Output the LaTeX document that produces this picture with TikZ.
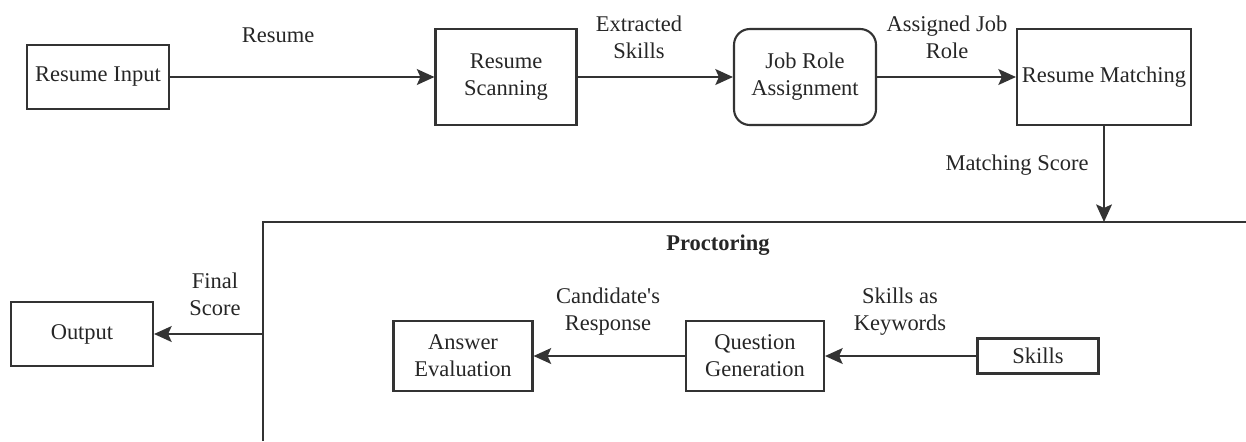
\documentclass[tikz,border=0pt]{standalone}
\usepackage{fontspec}
\setmainfont{Liberation Serif}
\usepackage{xcolor}
\usetikzlibrary{arrows.meta}
\definecolor{ink}{HTML}{333333}
\tikzset{
	box/.style={draw=ink, line width=1.2pt, inner sep=0pt, align=center,
			font=\fontsize{12.8}{15.4}\selectfont, text=black!85},
	rbox/.style={box, rounded corners=9pt},
	lbl/.style={align=center, inner sep=0pt,
			font=\fontsize{12.8}{15.4}\selectfont, text=black!85},
	flow/.style={draw=ink, line width=1.2pt, -{Stealth[length=10pt,width=9pt,inset=2pt]}}
}

\begin{document}
\begin{tikzpicture}[x=0.02cm, y=-0.02cm]
		\useasboundingbox (0,0) rectangle (1246,441);

		% Top row
		\node[box, minimum width=2.84cm, minimum height=1.28cm] (input) at (98,77) {Resume Input};
		\node[box, minimum width=2.82cm, minimum height=1.92cm] (scan) at (506,77) {Resume\\Scanning};
		\node[rbox, minimum width=2.84cm, minimum height=1.92cm] (assign) at (805,77) {Job Role\\Assignment};
		\node[box, minimum width=3.48cm, minimum height=1.92cm] (match) at (1104,77) {Resume Matching};

		\draw[flow] (input) -- (scan);
		\draw[flow] (scan) -- (assign);
		\draw[flow] (assign) -- (match);

		\node[lbl] (lresume) at (278,35) {Resume};
		\node[lbl] (lextract) at (639,37) {Extracted\\Skills};
		\node[lbl] (lrole) at (947,37) {Assigned Job\\Role};

		% Proctoring frame (open to the right and bottom)
		\coordinate (fbot) at (263,441);
		\coordinate (fcorner) at (263,222);
		\coordinate (fright) at (1246,222);
		\coordinate (ftop) at (1104,222);
		\coordinate (fout) at (263,334);
		\draw[draw=ink, line width=1.2pt] (fbot) -- (fcorner) -- (fright);
		\node[lbl, font=\fontsize{12.8}{15.4}\selectfont\bfseries] (proc) at (718,245) {Proctoring};

		\draw[flow] (match) -- (ftop);
		\node[lbl] (lscore) at (1017,165) {Matching Score};

		% Inside the frame
		\node[box, minimum width=2.42cm, minimum height=0.7cm] (skills) at (1038,356) {Skills};
		\node[box, minimum width=2.76cm, minimum height=1.4cm] (quest) at (755,356) {Question\\Generation};
		\node[box, minimum width=2.78cm, minimum height=1.4cm] (eval) at (463,356) {Answer\\Evaluation};

		\draw[flow] (skills) -- (quest);
		\draw[flow] (quest) -- (eval);

		\node[lbl] (lkeys) at (900,312) {Skills as\\Keywords};
		\node[lbl] (lresp) at (608,312) {Candidate\textquotesingle s\\Response};

		% Output
		\node[box, minimum width=2.84cm, minimum height=1.28cm] (output) at (82,334) {Output};
		\draw[flow] (fout) -- (output);
		\node[lbl] (lfinal) at (215,294) {Final\\Score};
	\end{tikzpicture}
\end{document}
